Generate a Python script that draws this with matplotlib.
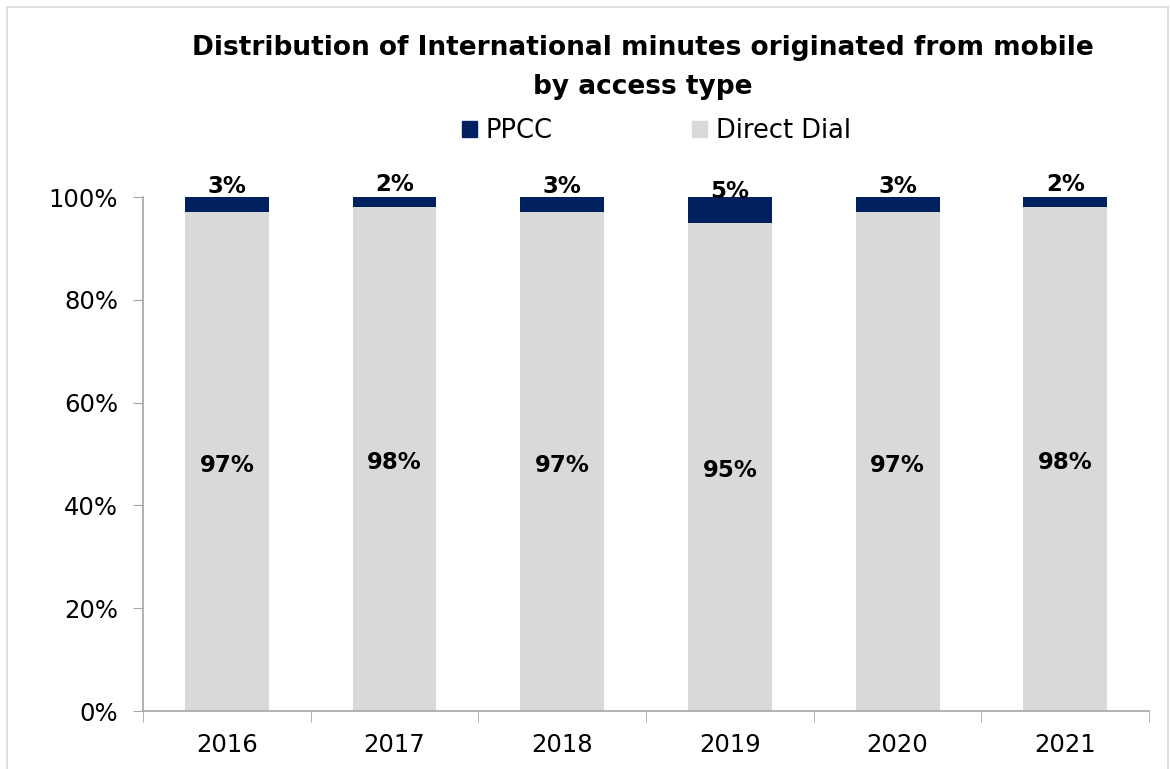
import matplotlib.pyplot as plt
from matplotlib.patches import Patch, Rectangle
import numpy as np

years = ['2016', '2017', '2018', '2019', '2020', '2021']
ppcc = [3, 2, 3, 5, 3, 2]
direct_dial = [97, 98, 97, 95, 97, 98]

navy = '#002060'
grey = '#D9D9D9'
axis_col = '#A6A6A6'

plt.rcParams['font.family'] = ['DejaVu Sans']

fig = plt.figure(figsize=(11.7, 7.69), dpi=100)
ax = fig.add_axes([0.1222, 0.0754, 0.860, 0.6684])

x = np.arange(len(years))
dd = np.array(direct_dial)
pp = np.array(ppcc)
ax.bar(x, dd, width=0.5, color=grey, zorder=2)
ax.bar(x, pp, width=0.5, bottom=dd, color=navy, zorder=2)

# labels: direct dial centred, PPCC pushed up above the thin segment
for xi, d, p in zip(x, dd, pp):
    ax.annotate(f'{d}%', (xi, d / 2), xytext=(0, -2.5),
                textcoords='offset points', ha='center', va='center',
                fontsize=16.5, fontweight='bold', color='black', zorder=3)
    ax.annotate(f'{p}%', (xi, d + p / 2), xytext=(0, 13),
                textcoords='offset points', ha='center', va='center',
                fontsize=16.5, fontweight='bold', color='black', zorder=3,
                annotation_clip=False)

ax.set_xlim(-0.5, len(years) - 0.5)
ax.set_ylim(0, 100)
ax.set_yticks(np.arange(0, 101, 20))
ax.set_yticklabels([f'{v}%' for v in range(0, 101, 20)])
ax.tick_params(axis='y', labelsize=17.5, length=7, color=axis_col, pad=11)

# year labels in the middle, tick marks on the category boundaries
ax.set_xticks(x)
ax.set_xticklabels(years)
ax.set_xticks(np.arange(-0.5, len(years)), minor=True)
ax.tick_params(axis='x', which='major', length=0, labelsize=17.5, pad=16)
ax.tick_params(axis='x', which='minor', length=8, color=axis_col)

for s in ['top', 'right']:
    ax.spines[s].set_visible(False)
for s in ['left', 'bottom']:
    ax.spines[s].set_color(axis_col)
    ax.spines[s].set_linewidth(1.2)

fig.text(0.5496, 0.937, 'Distribution of International minutes originated from mobile',
         ha='center', va='center', fontsize=19, fontweight='bold')
fig.text(0.5496, 0.887, 'by access type',
         ha='center', va='center', fontsize=19, fontweight='bold')

handles = [Patch(color=navy), Patch(color=grey)]
fig.legend(handles, ['PPCC', 'Direct Dial'], loc='center', bbox_to_anchor=(0.561, 0.83),
           ncol=2, frameon=False, fontsize=18.5, handlelength=0.6, handleheight=0.6,
           handletextpad=0.35, columnspacing=5.4)

# outer chart border
fig.patches.append(Rectangle((0.006, -0.05), 0.992, 1.041, transform=fig.transFigure,
                             fill=False, edgecolor='#D9D9D9', linewidth=1.2))

fig.savefig('out.png', dpi=100)
